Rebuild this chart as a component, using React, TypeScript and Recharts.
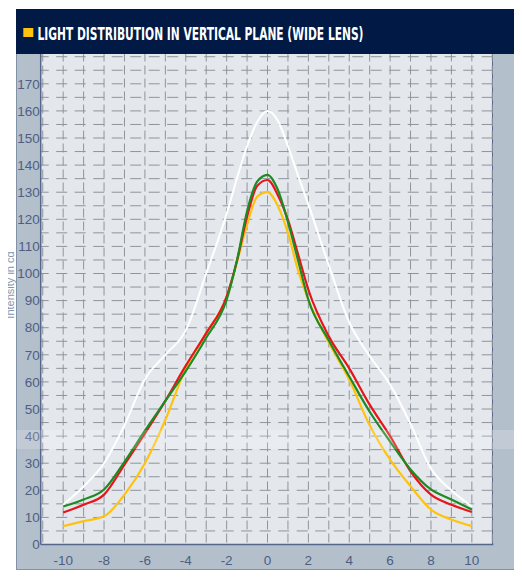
import { LineChart, Line, XAxis, YAxis, ReferenceLine } from 'recharts';

// angle in degrees, intensity in cd
const ANGLES = [-10, -9, -8, -7, -6, -5, -4, -3, -2, -1.5, -1, -0.5, 0, 0.5, 1, 1.5, 2, 3, 4, 5, 6, 7, 8, 9, 10];
const WHITE = [14.7, 21.4, 30, 44, 61, 70, 79, 100, 122, 135, 147, 156, 160, 156.5, 147, 136, 125.5, 103, 82, 69.5, 59, 44.5, 28, 20, 14];
const GREEN = [14, 16.6, 20.3, 30.5, 42, 53, 64, 76.3, 90.3, 104.7, 123, 134, 136.4, 131, 119, 104.7, 90.3, 75.3, 62, 49, 38, 27.7, 20.3, 16.6, 12.9];
const RED = [11.8, 14.7, 18.4, 29.5, 41, 53, 66, 78, 91.5, 104.5, 121, 132.4, 134.5, 129, 119.8, 107, 94, 76.8, 65, 51.6, 40, 27, 18.4, 14.7, 12];
const YELLOW = [6.8, 8.6, 10.4, 18.4, 30, 46, 65, 78, 91.5, 104, 118, 128.4, 130, 125, 115, 101, 90.3, 74.5, 60.8, 44, 31.3, 21.5, 12.9, 9.2, 6.8];

const X_TICKS = [-10, -8, -6, -4, -2, 0, 2, 4, 6, 8, 10];
const Y_TICKS = [0, 10, 20, 30, 40, 50, 60, 70, 80, 90, 100, 110, 120, 130, 140, 150, 160, 170];
const GRID_X = [-11, -10, -9, -8, -7, -6, -5, -4, -3, -2, -1, 0, 1, 2, 3, 4, 5, 6, 7, 8, 9, 10, 11];
const GRID_Y = [5, 10, 15, 20, 25, 30, 35, 40, 45, 50, 55, 60, 65, 70, 75, 80, 85, 90, 95, 100, 105, 110, 115, 120, 125, 130, 135, 140, 145, 150, 155, 160, 165, 170, 175, 180];

const data = ANGLES.map((angle, i) => ({
  angle,
  white: WHITE[i],
  green: GREEN[i],
  red: RED[i],
  yellow: YELLOW[i],
}));

const NAVY = '#011a45';
const FRAME = '#b4bfcc';
const PLOT_BG = '#e4e8ed';
const GRID = '#8e949c';
const AXIS = '#56668a';
const LABEL = '#4e5e82';

const tickStyle = { fill: LABEL, fontSize: 13.5, fontFamily: 'Liberation Sans, Arial, sans-serif' };

export default function App() {
  return (
    <div style={{ position: 'relative', width: 522, height: 579, margin: -8, overflow: 'hidden', background: '#fff' }}>
      {/* header + frame */}
      <div style={{ position: 'absolute', left: 16, top: 9, width: 503, height: 45, background: NAVY }} />
      <div
        style={{
          position: 'absolute',
          left: 16,
          top: 54,
          width: 503,
          height: 516,
          background: FRAME,
          boxSizing: 'border-box',
          border: '1px solid #8292a8',
          borderTop: 'none',
        }}
      />
      <div
        style={{
          position: 'absolute',
          left: 40.7,
          top: 54,
          width: 452.6,
          height: 490.5,
          background: PLOT_BG,
          boxSizing: 'border-box',
          borderRight: `1.5px solid ${AXIS}`,
        }}
      />

      <div style={{ position: 'absolute', left: 0, top: 0 }}>
        <LineChart width={522} height={579} data={data} margin={{ top: 54, right: 28.7, bottom: 4.5, left: 10.7 }}>
          <XAxis
            type="number"
            dataKey="angle"
            domain={[-11.1, 11.05]}
            ticks={X_TICKS}
            allowDataOverflow
            height={30}
            tickLine={false}
            tickMargin={5}
            axisLine={{ stroke: AXIS, strokeWidth: 1.5 }}
            tick={tickStyle}
          />
          <YAxis
            type="number"
            domain={[0, 181]}
            ticks={Y_TICKS}
            allowDataOverflow
            width={30}
            tickLine={false}
            tickSize={0}
            tickMargin={1}
            axisLine={{ stroke: AXIS, strokeWidth: 1.5 }}
            tick={tickStyle}
          />
          {GRID_Y.map((v) => (
            <ReferenceLine key={'gy' + v} y={v} stroke={GRID} strokeWidth={1} strokeDasharray="11 7.5" strokeDashoffset={3} />
          ))}
          {GRID_X.map((v) => (
            <ReferenceLine key={'gx' + v} x={v} stroke={GRID} strokeWidth={1} strokeDasharray="9 4" strokeDashoffset={11} />
          ))}
          <Line type="monotone" dataKey="white" stroke="#ffffff" strokeWidth={2} dot={false} isAnimationActive={false} />
          <Line type="monotone" dataKey="yellow" stroke="#ffc20e" strokeWidth={2.2} dot={false} isAnimationActive={false} />
          <Line type="monotone" dataKey="red" stroke="#e8141c" strokeWidth={2.2} dot={false} isAnimationActive={false} />
          <Line type="monotone" dataKey="green" stroke="#1d8a22" strokeWidth={2.2} dot={false} isAnimationActive={false} />
        </LineChart>
      </div>

      {/* title, axis labels, faint scan band */}
      <svg width={522} height={579} style={{ position: 'absolute', left: 0, top: 0, pointerEvents: 'none' }}>
        <defs>
          <clipPath id="ylabClip">
            <rect x={8} y={0} width={20} height={579} />
          </clipPath>
        </defs>
        <rect x={23.3} y={28} width={10} height={9} fill="#ffc20e" />
        <text
          x={37.5}
          y={39.5}
          fill="#ffffff"
          fontSize={17}
          fontWeight="bold"
          fontFamily="Liberation Sans Narrow, DejaVu Sans Condensed, Arial Narrow, sans-serif"
          textLength={326}
          lengthAdjust="spacingAndGlyphs"
        >
          LIGHT DISTRIBUTION IN VERTICAL PLANE (WIDE LENS)
        </text>
        <g clipPath="url(#ylabClip)">
          <text
            x={0}
            y={0}
            transform="translate(13.5,285) rotate(-90)"
            textAnchor="middle"
            fill="#8494b0"
            fontSize={11}
            fontFamily="Liberation Sans, Arial, sans-serif"
          >
            Intensity in cd
          </text>
        </g>
        <text x={262} y={583.5} textAnchor="middle" fill="#56668a" fontSize={11} fontFamily="Liberation Sans, Arial, sans-serif">
          Angle in degrees
        </text>
        <rect x={0} y={430} width={522} height={19} fill="#ffffff" opacity={0.18} />
      </svg>
    </div>
  );
}
